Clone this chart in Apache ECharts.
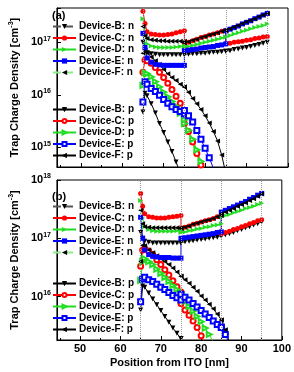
<!DOCTYPE html>
<html>
<head>
<meta charset="utf-8">
<script src="https://cdn.jsdelivr.net/npm/echarts@6/dist/echarts.min.js"></script>
<style>
html,body{margin:0;padding:0;background:#fff}
#main{width:294px;height:372px}
</style>
</head>
<body>
<div id="main"></div>
<script>
// positions in nm, 75 and 85 appear twice (jump at the layer edges)
var xPos = [65, 65.5, 66, 67, 68, 69, 70, 71, 72, 73, 74, 75, 75, 76, 77, 78, 79, 80, 81, 82, 83, 84, 85, 85, 86, 87, 88, 89, 90, 91, 92, 93, 94, 95];
var layerEdges = [65, 75, 85, 95];

// values, as log10 of density in cm^-3
// panel (a)
var aBn = [17.0, 16.85, 16.8, 16.78, 16.77, 16.76, 16.76, 16.76, 16.76, 16.76, 16.76, 16.76, 16.77, 16.77, 16.78, 16.78, 16.79, 16.79, 16.8, 16.81, 16.81, 16.82, 16.83, 16.83, 16.84, 16.86, 16.87, 16.89, 16.9, 16.92, 16.94, 16.96, 16.98, 17.0];
var aCn = [17.59, 17.36, 17.2, 17.16, 17.15, 17.14, 17.14, 17.15, 17.16, 17.18, 17.2, 17.22, 16.98, 17.0, 17.03, 17.06, 17.09, 17.11, 17.14, 17.16, 17.18, 17.21, 17.23, 16.97, 16.98, 17.0, 17.01, 17.02, 17.04, 17.05, 17.07, 17.08, 17.1, 17.11];
var aDn = [17.45, 17.15, 16.97, 16.93, 16.91, 16.9, 16.9, 16.9, 16.9, 16.91, 16.92, 16.93, 16.9, 16.92, 16.94, 16.96, 16.98, 17.0, 17.02, 17.04, 17.06, 17.08, 17.1, 17.1, 17.13, 17.16, 17.18, 17.21, 17.23, 17.26, 17.28, 17.3, 17.32, 17.35];
var aEn = [17.17, 16.9, 16.7, 16.62, 16.58, 16.57, 16.56, 16.56, 16.56, 16.56, 16.56, 16.56, 16.84, 16.85, 16.86, 16.87, 16.89, 16.9, 16.91, 16.92, 16.94, 16.95, 16.97, 17.22, 17.25, 17.28, 17.31, 17.35, 17.38, 17.41, 17.45, 17.48, 17.52, 17.55];
var aFn = [17.3, 17.12, 17.07, 17.05, 17.04, 17.03, 17.03, 17.02, 17.02, 17.02, 17.02, 17.02, 16.99, 17.01, 17.04, 17.06, 17.09, 17.11, 17.14, 17.16, 17.18, 17.21, 17.23, 17.23, 17.26, 17.29, 17.32, 17.36, 17.39, 17.42, 17.45, 17.49, 17.52, 17.55];
var aBp = [15.67, 16.03, 15.98, 15.83, 15.65, 15.45, 15.28, 15.1, 14.92, 14.72, 14.5];
var aCp = [16.43, 16.66, 16.65, 16.6, 16.52, 16.43, 16.33, 16.22, 16.1, 15.97, 15.84, 15.7, 15.45, 15.3, 15.1, 14.88, 14.66, 14.42];
var aDp = [16.18, 16.42, 16.4, 16.34, 16.25, 16.15, 16.05, 15.96, 15.87, 15.78, 15.65, 15.52, 15.45, 15.32, 15.15, 14.95, 14.73, 14.5];
var aEp = [15.86, 16.25, 16.2, 16.12, 16.06, 15.99, 15.91, 15.84, 15.77, 15.72, 15.68, 15.64, 15.7, 15.6, 15.48, 15.32, 15.15, 14.98, 14.8, 14.6];
var aFp = [16.79, 16.85, 16.8, 16.72, 16.65, 16.57, 16.48, 16.4, 16.33, 16.27, 16.2, 16.15, 16.15, 16.05, 15.93, 15.83, 15.72, 15.6, 15.46, 15.3, 15.12, 14.85, 14.5];
// panel (b)
var bBn = [17.1, 17.0, 16.95, 16.93, 16.92, 16.92, 16.92, 16.92, 16.92, 16.92, 16.92, 16.92, 16.93, 16.94, 16.95, 16.96, 16.97, 16.98, 16.99, 17.0, 17.01, 17.02, 17.04, 17.04, 17.06, 17.08, 17.1, 17.13, 17.15, 17.18, 17.2, 17.23, 17.25, 17.28];
var bCn = [17.77, 17.55, 17.42, 17.37, 17.36, 17.35, 17.35, 17.35, 17.36, 17.37, 17.38, 17.39, 17.17, 17.19, 17.21, 17.24, 17.26, 17.28, 17.3, 17.32, 17.34, 17.37, 17.39, 17.08, 17.1, 17.12, 17.15, 17.17, 17.2, 17.22, 17.25, 17.27, 17.3, 17.32];
var bDn = [17.65, 17.35, 17.2, 17.15, 17.13, 17.12, 17.12, 17.12, 17.12, 17.12, 17.13, 17.13, 17.1, 17.11, 17.13, 17.14, 17.16, 17.17, 17.19, 17.2, 17.22, 17.23, 17.25, 17.37, 17.39, 17.41, 17.44, 17.46, 17.48, 17.51, 17.53, 17.55, 17.58, 17.6];
var bEn = [17.36, 17.0, 16.8, 16.72, 16.69, 16.68, 16.67, 16.67, 16.67, 16.66, 16.66, 16.66, 17.0, 17.01, 17.02, 17.03, 17.04, 17.05, 17.06, 17.07, 17.08, 17.1, 17.11, 17.45, 17.48, 17.51, 17.54, 17.57, 17.6, 17.63, 17.67, 17.7, 17.74, 17.77];
var bFn = [17.48, 17.25, 17.2, 17.19, 17.18, 17.18, 17.18, 17.18, 17.18, 17.18, 17.18, 17.18, 17.17, 17.19, 17.21, 17.24, 17.26, 17.28, 17.3, 17.32, 17.34, 17.37, 17.39, 17.42, 17.45, 17.48, 17.51, 17.55, 17.58, 17.61, 17.65, 17.68, 17.72, 17.76];
var bBp = [15.77, 16.18, 16.16, 16.06, 15.96, 15.86, 15.76, 15.66, 15.56, 15.46, 15.37, 15.28, 15.28, 15.18];
var bCp = [16.52, 16.8, 16.82, 16.78, 16.72, 16.63, 16.55, 16.46, 16.37, 16.27, 16.17, 16.08, 15.88, 15.77, 15.68, 15.58, 15.47, 15.33, 15.18];
var bDp = [16.28, 16.6, 16.65, 16.6, 16.55, 16.47, 16.4, 16.33, 16.26, 16.19, 16.12, 16.06, 15.98, 15.92, 15.83, 15.75, 15.66, 15.57, 15.46, 15.35, 15.22];
var bEp = [15.91, 16.3, 16.33, 16.29, 16.26, 16.21, 16.16, 16.12, 16.07, 16.02, 15.98, 15.94, 16.04, 15.99, 15.94, 15.88, 15.82, 15.76, 15.7, 15.64, 15.58, 15.52, 15.48, 15.47, 15.35, 15.2];
var bFp = [16.6, 16.88, 16.87, 16.8, 16.75, 16.7, 16.65, 16.6, 16.55, 16.49, 16.42, 16.35, 16.35, 16.29, 16.23, 16.16, 16.09, 16.01, 15.94, 15.87, 15.79, 15.7, 15.6, 15.6, 15.43, 15.22];

var namesN = ['Device-B: n', 'Device-C: n', 'Device-D: n', 'Device-E: n', 'Device-F: n'];
var namesP = ['Device-B: p', 'Device-C: p', 'Device-D: p', 'Device-E: p', 'Device-F: p'];

var FONT = 'Liberation Sans, Arial, sans-serif';
var GREEN = '#22dd22';

// marker look per device
var look = {
    B: {color: '#000', symbol: 'triangle', rot: 180},
    C: {color: '#ff0000', symbol: 'circle', rot: 0},
    D: {color: GREEN, symbol: 'triangle', rot: -90},
    E: {color: '#0000ff', symbol: 'rect', rot: 0},
    F: {color: '#000', symbol: 'triangle', rot: 90}
};

function pairs(vals) {
    var out = [];
    for (var i = 0; i < vals.length; i++) {
        out.push([xPos[i], Math.pow(10, vals[i])]);
    }
    return out;
}

function mkSeries(panel, dev, kind, vals) {
    var lk = look[dev];
    var open = kind == 'p' && (dev == 'C' || dev == 'D' || dev == 'E');
    var lineColor = lk.color;
    var lineType = 'solid';
    if (kind == 'n' && dev == 'B') { lineColor = '#555'; lineType = 'dashed'; }
    if (kind == 'n' && dev == 'F') { lineColor = '#88ee88'; lineType = 'dashed'; }
    return {
        name: 'Device-' + dev + ': ' + kind,
        type: 'line',
        xAxisIndex: panel,
        yAxisIndex: panel,
        data: pairs(vals),
        symbol: (open ? 'empty' + lk.symbol.charAt(0).toUpperCase() + lk.symbol.slice(1) : lk.symbol),
        symbolSize: 5,
        symbolRotate: lk.rot,
        showAllSymbol: true,
        clip: true,
        lineStyle: {color: lineColor, width: 1, type: lineType},
        itemStyle: {color: lk.color, borderColor: lk.color, borderWidth: open ? 1 : 0},
        emphasis: {disabled: true},
        z: 3
    };
}

function edgeLines(panel) {
    return {
        type: 'line',
        xAxisIndex: panel,
        yAxisIndex: panel,
        data: [],
        silent: true,
        markLine: {
            silent: true,
            symbol: 'none',
            label: {show: false},
            lineStyle: {color: '#999', type: 'dotted', width: 1},
            data: layerEdges.map(function (v) { return {xAxis: v}; })
        },
        z: 1
    };
}

function logLabel(v) {
    var l = Math.log10(v);
    var e = Math.round(l);
    if (Math.abs(l - e) > 1e-6) return '';
    return '{b|10}{s|' + e + '}';
}

function yAxis(panel, min, max) {
    return {
        type: 'log',
        gridIndex: panel,
        min: min,
        max: max,
        logBase: 10,
        name: '{t|Trap Charge Density [cm}{s|-3}{t|]}',
        nameLocation: 'middle',
        nameGap: 31,
        nameRotate: 90,
        nameTextStyle: {
            rich: {
                t: {fontFamily: FONT, fontWeight: 'bold', fontSize: 11, color: '#000'},
                s: {fontFamily: FONT, fontWeight: 'bold', fontSize: 7, color: '#000', verticalAlign: 'bottom', padding: [0, 0, 6, 0]}
            }
        },
        axisLine: {show: true, lineStyle: {color: '#000', width: 1}},
        axisTick: {show: true, inside: true, length: 4, lineStyle: {color: '#000'}},
        splitLine: {show: false},
        axisLabel: {
            margin: 6,
            formatter: logLabel,
            showMinLabel: true,
            showMaxLabel: true,
            rich: {
                b: {fontFamily: FONT, fontWeight: 'bold', fontSize: 11, color: '#000'},
                s: {fontFamily: FONT, fontWeight: 'bold', fontSize: 7, color: '#000', verticalAlign: 'bottom', padding: [0, 0, 7, 0]}
            }
        }
    };
}

function xAxis(panel, withLabels) {
    return {
        type: 'value',
        gridIndex: panel,
        min: 44.25,
        max: 100,
        name: withLabels ? 'Position from ITO [nm]' : '',
        nameLocation: 'middle',
        nameGap: 17,
        nameTextStyle: {fontFamily: FONT, fontWeight: 'bold', fontSize: 11, color: '#000'},
        axisLine: {show: true, onZero: false, lineStyle: {color: '#000', width: 1}},
        axisTick: {show: true, inside: true, length: 4, lineStyle: {color: '#000'}},
        minorTick: {show: true, splitNumber: 2, length: 2, lineStyle: {color: '#000'}},
        splitLine: {show: false},
        axisLabel: {
            show: withLabels,
            margin: 3,
            fontFamily: FONT,
            fontWeight: 'bold',
            fontSize: 11,
            color: '#000',
            showMinLabel: false,
            formatter: function (v) { return (v % 10 === 0) ? String(v) : ''; }
        }
    };
}

function legend(names, top, symH, border) {
    return {
        data: names,
        orient: 'vertical',
        left: 52,
        top: top,
        padding: 0,
        itemWidth: 23,
        itemHeight: symH,
        itemGap: 0.5,
        selectedMode: false,
        itemStyle: {borderWidth: border},
        textStyle: {fontFamily: FONT, fontWeight: 'bold', fontSize: 10, lineHeight: 11, color: '#000', padding: [0, 0, 0, -2]}
    };
}

var series = [edgeLines(0), edgeLines(1)];
var panelA = {n: [aBn, aCn, aDn, aEn, aFn], p: [aBp, aCp, aDp, aEp, aFp]};
var panelB = {n: [bBn, bCn, bDn, bEn, bFn], p: [bBp, bCp, bDp, bEp, bFp]};
var devs = ['B', 'C', 'D', 'E', 'F'];
[panelA, panelB].forEach(function (pn, k) {
    devs.forEach(function (d, i) { series.push(mkSeries(k, d, 'p', pn.p[i])); });
    devs.forEach(function (d, i) { series.push(mkSeries(k, d, 'n', pn.n[i])); });
});

var chart = echarts.init(document.getElementById('main'), null, {renderer: 'canvas'});
chart.setOption({
    animation: false,
    backgroundColor: '#fff',
    grid: [
        {left: 46, right: 6, top: 8, height: 159, show: true, borderColor: '#000', borderWidth: 1, backgroundColor: 'transparent'},
        {left: 46, right: 6, top: 180, height: 160, show: true, borderColor: '#000', borderWidth: 1, backgroundColor: 'transparent'}
    ],
    xAxis: [xAxis(0, false), xAxis(1, true)],
    yAxis: [yAxis(0, 4.2e14, 4.5e17), yAxis(1, 1.8e15, 1e18)],
    legend: [
        legend(namesN, 21, 6.5, 0),
        legend(namesP, 104, 5, 1),
        legend(namesN, 201, 6.5, 0),
        legend(namesP, 278, 5, 1)
    ],
    graphic: [
        {type: 'text', left: 52, top: 10, style: {text: '(a)', font: 'bold 11px ' + FONT, fill: '#000'}},
        {type: 'text', left: 52, top: 191, style: {text: '(b)', font: 'bold 11px ' + FONT, fill: '#000'}}
    ],
    series: series
});
</script>
</body>
</html>
